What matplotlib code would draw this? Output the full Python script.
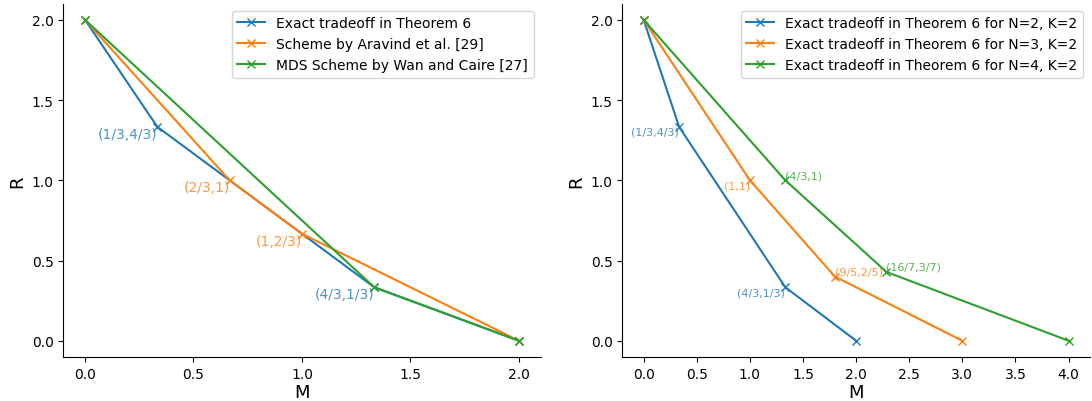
import numpy as np
from matplotlib import pyplot as plt
from matplotlib.ticker import MultipleLocator

# left panel
exact_M = [0, 1/3, 4/3, 2]
exact_R = [2, 4/3, 1/3, 0]
aravind_M = [0, 2/3, 1, 2]
aravind_R = [2, 1, 2/3, 0]
mds_M = [0, 4/3, 2]
mds_R = [2, 1/3, 0]

# right panel
n2_M = [0, 1/3, 4/3, 2]
n2_R = [2, 4/3, 1/3, 0]
n3_M = [0, 1, 9/5, 3]
n3_R = [2, 1, 2/5, 0]
n4_M = [0, 4/3, 16/7, 4]
n4_R = [2, 1, 3/7, 0]

fig = plt.figure(figsize=(10.92, 4.02), dpi=100)
ax1 = fig.add_axes([0.058, 0.11, 0.437, 0.878])
ax2 = fig.add_axes([0.570, 0.11, 0.428, 0.878])

ax1.plot(exact_M, exact_R, marker="x", label="Exact tradeoff in Theorem 6")
ax1.plot(aravind_M, aravind_R, marker="x", label="Scheme by Aravind et al. [29]")
ax1.plot(mds_M, mds_R, marker="x", label="MDS Scheme by Wan and Caire [27]")

c = plt.rcParams["axes.prop_cycle"].by_key()["color"]
ax1.text(1/3, 4/3, "(1/3,4/3)", color=c[0], alpha=0.8, ha="right", va="top", fontsize=10)
ax1.text(2/3, 1, "(2/3,1)", color=c[1], alpha=0.8, ha="right", va="top", fontsize=10)
ax1.text(1, 2/3, "(1,2/3)", color=c[1], alpha=0.8, ha="right", va="top", fontsize=10)
ax1.text(4/3, 1/3, "(4/3,1/3)", color=c[0], alpha=0.8, ha="right", va="top", fontsize=10)

ax2.plot(n2_M, n2_R, marker="x", label="Exact tradeoff in Theorem 6 for N=2, K=2")
ax2.plot(n3_M, n3_R, marker="x", label="Exact tradeoff in Theorem 6 for N=3, K=2")
ax2.plot(n4_M, n4_R, marker="x", label="Exact tradeoff in Theorem 6 for N=4, K=2")

ax2.text(1/3, 4/3, "(1/3,4/3)", color=c[0], alpha=0.8, ha="right", va="top", fontsize=8)
ax2.text(4/3, 1/3, "(4/3,1/3)", color=c[0], alpha=0.8, ha="right", va="top", fontsize=8)
ax2.text(1, 1, "(1,1)", color=c[1], alpha=0.8, ha="right", va="top", fontsize=8)
ax2.text(9/5, 2/5, "(9/5,2/5)", color=c[1], alpha=0.8, ha="left", va="bottom", fontsize=8)
ax2.text(4/3, 1, "(4/3,1)", color=c[2], alpha=0.8, ha="left", va="bottom", fontsize=8)
ax2.text(16/7, 3/7, "(16/7,3/7)", color=c[2], alpha=0.8, ha="left", va="bottom", fontsize=8)

for ax in (ax1, ax2):
    ax.set_xlabel("M", fontsize=13, labelpad=2)
    ax.set_ylabel("R", fontsize=13)
    ax.xaxis.set_major_locator(MultipleLocator(0.5))
    ax.yaxis.set_major_locator(MultipleLocator(0.5))
    ax.spines["top"].set_visible(False)
    ax.spines["right"].set_visible(False)
    ax.legend(loc="upper right")

fig.savefig("out.png")
